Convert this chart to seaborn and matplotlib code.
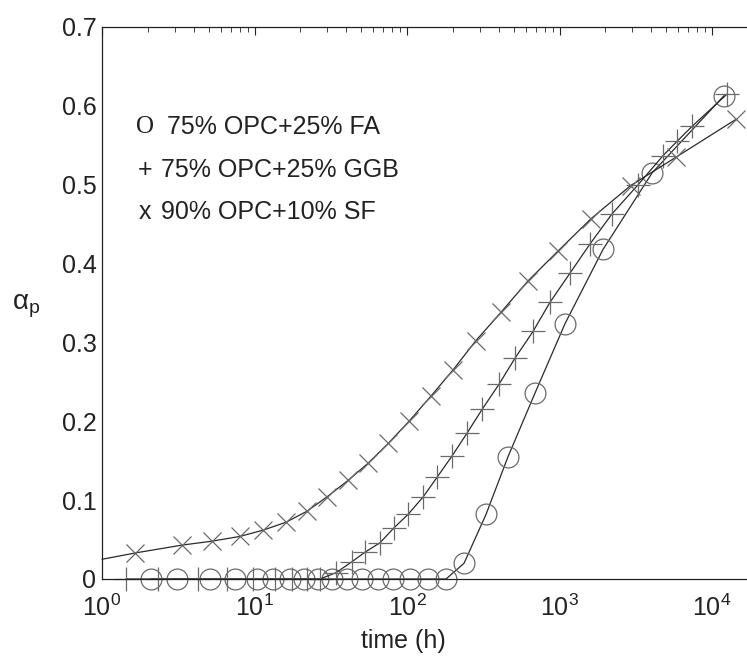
import matplotlib
matplotlib.use("Agg")
import matplotlib.pyplot as plt
import seaborn as sns
from matplotlib.ticker import LogLocator, NullFormatter

# time (h) and degree of hydration
fa_time = [2.10, 3.10, 5.11, 7.45, 10.4, 13.2, 17.1, 21.1, 26.1, 32.2, 40.4, 50.7,
           64.5, 80.9, 104.7, 137.3, 180.2, 236.5, 329.6, 459, 691, 1087, 1928,
           4043, 11990]
fa_alpha = [0, 0, 0, 0, 0, 0, 0, 0, 0, 0, 0, 0, 0, 0, 0, 0, 0, 0.020, 0.082, 0.155,
            0.236, 0.324, 0.418, 0.515, 0.613]

ggb_time = [1.44, 2.33, 4.26, 6.6, 9.78, 13.6, 17.6, 22.1, 26.9, 34.2, 43.6, 53.0,
            66.5, 82.2, 101.6, 127.4, 157.3, 197.2, 247.4, 310.3, 401, 510, 670,
            866, 1172, 1585, 2208, 3273, 4775, 5890, 7390, 12540]
ggb_alpha = [0, 0, 0, 0, 0, 0, 0, 0, 0, 0.008, 0.022, 0.034, 0.046, 0.065, 0.082,
             0.104, 0.129, 0.156, 0.185, 0.215, 0.247, 0.280, 0.314, 0.351, 0.388,
             0.425, 0.463, 0.500, 0.537, 0.555, 0.574, 0.615]

sf_time = [1.0, 1.65, 3.35, 5.27, 8.03, 11.4, 16.1, 22.1, 29.8, 41.0, 55.7, 75.4,
           103.0, 143.6, 200, 282, 412, 621, 978, 1610, 2930, 5810, 14360]
sf_alpha = [0.025, 0.033, 0.043, 0.048, 0.054, 0.062, 0.072, 0.086, 0.104, 0.125,
            0.147, 0.172, 0.200, 0.232, 0.265, 0.302, 0.338, 0.378, 0.416, 0.457,
            0.499, 0.535, 0.583]

legend_symbols = ["O", "+", "x"]
legend_labels = ["75% OPC+25% FA", "75% OPC+25% GGB", "90% OPC+10% SF"]
y_ticks = [0, 0.1, 0.2, 0.3, 0.4, 0.5, 0.6, 0.7]
y_ticklabels = ["0", "0.1", "0.2", "0.3", "0.4", "0.5", "0.6", "0.7"]

sns.set_style("white")
plt.rcParams["font.family"] = ["Liberation Sans", "DejaVu Sans"]
plt.rcParams["mathtext.fontset"] = "custom"
plt.rcParams["mathtext.rm"] = "Liberation Sans"
plt.rcParams["mathtext.it"] = "Liberation Sans:italic"

W, H = 747, 657
fig = plt.figure(figsize=(W / 100, H / 100), dpi=100)
# axes run past the right edge of the picture, as in the reference
ax = fig.add_axes([102 / W, 78 / H, 656 / W, 552 / H])

line_col = "#2a2a2a"
mark_col = "#6a6a6a"
common = dict(color=line_col, linewidth=0.9, markerfacecolor="none",
              markeredgecolor=mark_col, markeredgewidth=0.9, clip_on=False,
              errorbar=None, ax=ax)

sns.lineplot(x=fa_time, y=fa_alpha, marker="o", markersize=15, **common)
sns.lineplot(x=ggb_time, y=ggb_alpha, marker="+", markersize=17, **common)
sns.lineplot(x=sf_time, y=sf_alpha, marker="x", markersize=13,
             markevery=list(range(1, len(sf_time))), **common)

ax.set_xscale("log")
ax.set_xlim(1, 2e4)
ax.set_ylim(0, 0.7)
ax.set_yticks(y_ticks)
ax.set_yticklabels(y_ticklabels)
ax.xaxis.set_major_locator(LogLocator(base=10, numticks=10))
ax.xaxis.set_minor_locator(LogLocator(base=10, subs=range(2, 10), numticks=20))
ax.xaxis.set_minor_formatter(NullFormatter())

ax.tick_params(axis="both", which="both", direction="in", top=True, right=True,
               colors="#222222", labelsize=18)
ax.tick_params(axis="x", which="major", length=6, width=0.8, pad=11)
ax.tick_params(axis="x", which="minor", length=3.5, width=0.6)
ax.tick_params(axis="y", which="major", length=6, width=0.8, pad=4)
for side in ax.spines.values():
    side.set_linewidth(0.9)
    side.set_color("#222222")

ax.set_xlabel("time (h)", fontsize=18, color="#222222", va="center")
ax.xaxis.set_label_coords(0.46, -(641 - 579) / 552)
ax.set_ylabel("α$_\\mathrm{p}$", fontsize=20, rotation=0, color="#222222",
              va="center", ha="center")
ax.yaxis.set_label_coords(-(102 - 26) / 656, (579 - 306) / 552)

rows_y = [127, 170, 212]
sym_x = [136, 138, 139]
lab_x = [167, 161, 161]
for sym, lab, yy, sx, lx in zip(legend_symbols, legend_labels, rows_y, sym_x, lab_x):
    fam = ["Liberation Serif"] if sym == "O" else ["Liberation Sans"]
    fig.text(sx / W, 1 - yy / H, sym, fontsize=18, family=fam, va="center",
             ha="left", color="#222222")
    fig.text(lx / W, 1 - yy / H, lab, fontsize=18, va="center", ha="left",
             color="#222222")

fig.savefig("out.png", dpi=100)
